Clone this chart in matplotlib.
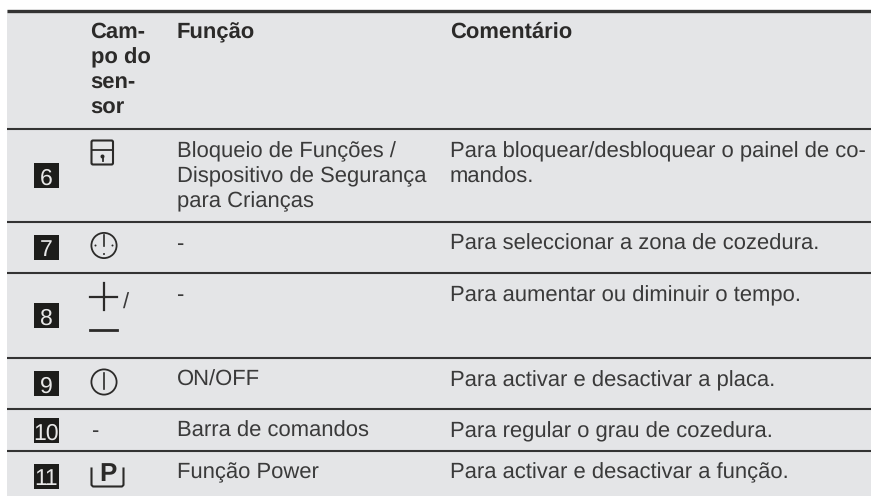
import matplotlib
matplotlib.use("Agg")
import matplotlib.pyplot as plt
from matplotlib.patches import Rectangle, Circle, FancyBboxPatch

# table content
headers = ["Cam-\npo do\nsen-\nsor", "Função", "Comentário"]
row_numbers = ["6", "7", "8", "9", "10", "11"]
functions = ["Bloqueio de Funções /\nDispositivo de Segurança\npara Crianças", "-", "-",
             "ON/OFF", "Barra de comandos", "Função Power"]
comments = ["Para bloquear/desbloquear o painel de co-\nmandos.",
            "Para seleccionar a zona de cozedura.",
            "Para aumentar ou diminuir o tempo.",
            "Para activar e desactivar a placa.",
            "Para regular o grau de cozedura.",
            "Para activar e desactivar a função."]

# layout, pixels
W, H = 871, 496
X0 = 7
XNUM, XSENS, XFUNC, XCOM = 46.5, 90.5, 176.5, 450
RULES = [129.3, 221.7, 273, 358, 409, 451]
BASE = [157, 250, 301, 386, 437, 478]
BOX_TOP = [163, 235, 303, 371, 418, 464]
BOX = 25
BG, INK, TXT, RULE = "#E4E5E7", "#2B2A29", "#3A3A3A", "#333333"
FS, FS_B = 15.5, 16.2

plt.rcParams["font.family"] = ["Liberation Sans", "DejaVu Sans"]
plt.rcParams["text.hinting"] = "no_hinting"
plt.rcParams["text.hinting_factor"] = 1
fig = plt.figure(figsize=(W/100, H/100), dpi=100, facecolor="white")
ax = fig.add_axes([0, 0, 1, 1])
ax.set_xlim(0, W)
ax.set_ylim(H, 0)
ax.axis("off")

ax.add_patch(Rectangle((X0, 10), W-X0, H-10, fc=BG, ec="none"))
ax.plot([X0, W], [11, 11], color=RULE, lw=2.4, solid_capstyle="butt")
for y in RULES:
    ax.plot([X0, W], [y, y], color=RULE, lw=1.5, solid_capstyle="butt")

LINE = 25.4

def multiline(x, y, s, fs=FS, color=TXT, **kw):
    # y is the first baseline
    for i, part in enumerate(s.split("\n")):
        ax.text(x, y + i*LINE, part, ha="left", va="baseline", fontsize=fs, color=color, **kw)

multiline(XSENS, 38, headers[0], fs=FS_B, color=INK, fontweight="bold")
multiline(XFUNC, 38, headers[1], fs=FS_B, color=INK, fontweight="bold")
multiline(XCOM, 38, headers[2], fs=FS_B, color=INK, fontweight="bold")

for i, n in enumerate(row_numbers):
    ax.add_patch(Rectangle((34, BOX_TOP[i]), BOX, BOX, fc="#1D1D1B", ec="none"))
    ax.text(XNUM, BOX_TOP[i]+BOX/2+0.5, n, ha="center", va="center_baseline",
            fontsize=16.5, color="#E8E8E8")
    multiline(XFUNC, BASE[i], functions[i])
    multiline(XCOM, BASE[i], comments[i])

# sensor icons, row 6: lock
ax.add_patch(FancyBboxPatch((91.5, 140.5), 21.5, 24, boxstyle="round,pad=0,rounding_size=1.5",
                            fc="none", ec=INK, lw=1.5))
ax.plot([91.5, 113], [150, 150], color=INK, lw=1.3)
ax.add_patch(Circle((102.5, 156.5), 2, fc=INK, ec="none"))
ax.plot([102.5, 102.5], [156.5, 161], color=INK, lw=1.3)

# row 7: timer
ax.add_patch(Circle((104, 245.5), 12.6, fc="none", ec=INK, lw=1.3))
ax.plot([104, 104], [235, 245.5], color=INK, lw=1.2)
for dx, dy in [(-8.5, 0), (8.5, 0), (0, 8.5)]:
    ax.add_patch(Circle((104+dx, 245.5+dy), 1, fc=INK, ec="none"))

# row 8: plus / minus
ax.plot([90, 117], [296.7, 296.7], color=INK, lw=1.6)
ax.plot([103.5, 103.5], [283, 310], color=INK, lw=1.6)
ax.plot([90, 117], [330.3, 330.3], color=INK, lw=2.0)
ax.text(122.5, 309, "/", fontsize=FS, color=TXT, ha="left", va="baseline")

# row 9: power
ax.add_patch(Circle((104, 382), 12.6, fc="none", ec=INK, lw=1.3))
ax.plot([104, 104], [373, 389], color=INK, lw=1.2)

# row 10: no icon
multiline(XSENS+1, 437, "-")

# row 11: P bracket
ax.plot([91.5, 91.5, 93, 122, 123.5, 123.5], [468.5, 485, 486.5, 486.5, 485, 468.5],
        color=INK, lw=1.5)
ax.text(108, 480.7, "P", ha="center", va="baseline", fontsize=19, fontweight="bold", color=INK,
        family=["Liberation Sans Narrow", "Liberation Sans"])

fig.savefig("out.png", dpi=100, facecolor="white")
